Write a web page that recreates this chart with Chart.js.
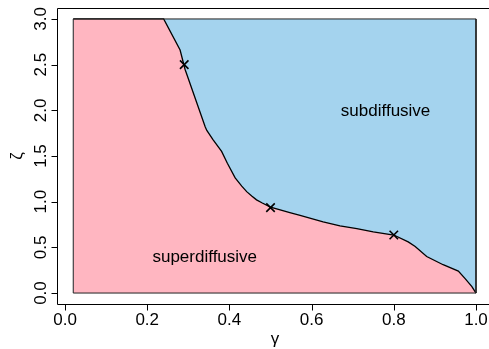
<!DOCTYPE html>
<html><head><meta charset="utf-8">
<script src="https://cdn.jsdelivr.net/npm/chart.js@4.4.0/dist/chart.umd.min.js"></script>
<style>
html,body{margin:0;padding:0;overflow:hidden;background:#fff;width:489px;height:349px}
</style></head>
<body><canvas id="c" width="489" height="349"></canvas>
<script>
// Phase boundary (gamma, zeta)
const boundaryX = [0.02, 0.24, 0.28, 0.292, 0.341, 0.345, 0.36, 0.381, 0.395, 0.414, 0.43, 0.442, 0.455, 0.466, 0.48, 0.5, 0.547, 0.572, 0.628, 0.669, 0.71, 0.75, 0.8, 0.835, 0.852, 0.88, 0.92, 0.957, 0.973, 0.99, 1.0];
const boundaryY = [3.0, 3.0, 2.66, 2.45, 1.82, 1.78, 1.68, 1.55, 1.42, 1.26, 1.17, 1.11, 1.06, 1.02, 0.985, 0.94, 0.88, 0.85, 0.78, 0.735, 0.705, 0.67, 0.635, 0.56, 0.51, 0.40, 0.31, 0.24, 0.16, 0.07, 0.0];
// marked points
const markerX = [0.29, 0.5, 0.8];
const markerY = [2.5, 0.935, 0.635];
// parameter domain
const domainX = [0.02, 1.0];
const domainY = [0, 3];
// visible axis limits (right side of the plot box is cut by the image edge)
const xLimits = [-0.0195, 1.0316];
const yLimits = [-0.12, 3.12];
// ticks
const xTicks = [0, 0.2, 0.4, 0.6, 0.8, 1.0];
const xTickLabels = ['0.0', '0.2', '0.4', '0.6', '0.8', '1.0'];
const yTicks = [0, 0.5, 1.0, 1.5, 2.0, 2.5, 3.0];
const yTickLabels = ['0.0', '0.5', '1.0', '1.5', '2.0', '2.5', '3.0'];
// region labels
const regionNames = ['subdiffusive', 'superdiffusive'];
const regionX = [0.78, 0.34];
const regionY = [2.0, 0.4];
const xTitle = 'γ';
const yTitle = 'ζ';

const FONT = '17px "Liberation Sans", Arial, sans-serif';
const PINK = '#FFB6C1';
const BLUE = '#A4D3EE';

const pts = (xs, ys) => xs.map((x, i) => ({x: x, y: ys[i]}));

const decor = {
  id: 'decor',
  afterDraw(chart) {
    const ctx = chart.ctx, ca = chart.chartArea;
    const xs = chart.scales.x, ys = chart.scales.y;
    ctx.save();
    ctx.fillStyle = '#000';
    ctx.font = FONT;
    // region labels
    ctx.textAlign = 'center';
    ctx.textBaseline = 'middle';
    regionNames.forEach((t, i) => {
      ctx.fillText(t, xs.getPixelForValue(regionX[i]), ys.getPixelForValue(regionY[i]) + 1);
    });
    // box (top, left, bottom; right edge lies outside the image)
    ctx.strokeStyle = '#000';
    ctx.lineWidth = 1;
    const L = Math.round(ca.left) + 0.5, T = Math.round(ca.top) + 0.5;
    const R = ca.right + 5, B = Math.round(ca.bottom) + 0.5;
    ctx.beginPath();
    ctx.moveTo(R, T); ctx.lineTo(L, T); ctx.lineTo(L, B); ctx.lineTo(R, B);
    // ticks
    xTicks.forEach(v => {
      const p = Math.round(xs.getPixelForValue(v)) + 0.5;
      ctx.moveTo(p, B); ctx.lineTo(p, B + 6);
    });
    yTicks.forEach(v => {
      const p = Math.round(ys.getPixelForValue(v)) + 0.5;
      ctx.moveTo(L, p); ctx.lineTo(L - 6, p);
    });
    ctx.stroke();
    ctx.textAlign = 'center';
    ctx.textBaseline = 'alphabetic';
    xTicks.forEach((v, i) => {
      ctx.fillText(xTickLabels[i], xs.getPixelForValue(v), B + 20);
    });
    yTicks.forEach((v, i) => {
      ctx.save();
      ctx.translate(L - 11.5, ys.getPixelForValue(v));
      ctx.rotate(-Math.PI / 2);
      ctx.fillText(yTickLabels[i], 0, 0);
      ctx.restore();
    });
    // titles
    ctx.fillText(xTitle, 275, 344);
    ctx.save();
    ctx.translate(22, (ca.top + ca.bottom) / 2);
    ctx.rotate(-Math.PI / 2);
    ctx.fillText(yTitle, 0, 0);
    ctx.restore();
    ctx.restore();
  }
};

new Chart(document.getElementById('c'), {
  type: 'scatter',
  data: {
    datasets: [
      {
        label: 'markers',
        data: pts(markerX, markerY),
        showLine: false,
        pointStyle: 'crossRot',
        pointRadius: 6,
        pointBorderWidth: 1.6,
        borderColor: '#000',
        backgroundColor: '#000',
        order: 0
      },
      {
        label: 'domain',
        data: pts([domainX[0], domainX[0], domainX[1], domainX[1], domainX[0]], [domainY[0], domainY[1], domainY[1], domainY[0], domainY[0]]),
        showLine: true,
        fill: false,
        borderColor: '#222',
        borderWidth: 1,
        pointRadius: 0,
        order: 1
      },
      {
        label: 'superdiffusive',
        data: pts(boundaryX, boundaryY),
        showLine: true,
        fill: 'origin',
        backgroundColor: PINK,
        borderColor: '#000',
        borderWidth: 1.3,
        pointRadius: 0,
        tension: 0,
        order: 2
      },
      {
        label: 'subdiffusive',
        data: pts(domainX, [domainY[1], domainY[1]]),
        showLine: true,
        fill: 'origin',
        backgroundColor: BLUE,
        borderWidth: 0,
        borderColor: BLUE,
        pointRadius: 0,
        order: 3
      }
    ]
  },
  options: {
    responsive: false,
    animation: false,
    devicePixelRatio: 1,
    layout: {autoPadding: false, padding: {left: 57, right: 0, top: 8, bottom: 45}},
    plugins: {legend: {display: false}, tooltip: {enabled: false}},
    scales: {
      x: {type: 'linear', display: false, min: xLimits[0], max: xLimits[1]},
      y: {type: 'linear', display: false, min: yLimits[0], max: yLimits[1]}
    }
  },
  plugins: [decor]
});
</script>
</body></html>
